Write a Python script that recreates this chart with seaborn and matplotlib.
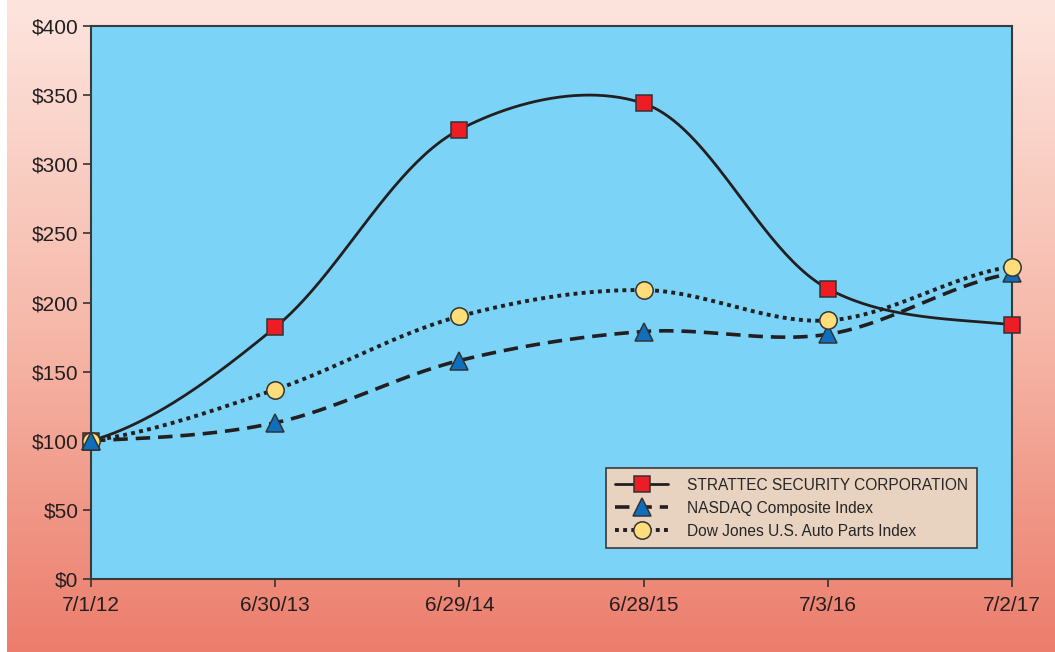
import numpy as np
import pandas as pd
import seaborn as sns
import matplotlib.pyplot as plt
from matplotlib.lines import Line2D
from matplotlib.colors import LinearSegmentedColormap

dates = ['7/1/12', '6/30/13', '6/29/14', '6/28/15', '7/3/16', '7/2/17']
strattec = [100, 182, 325, 344, 210, 184]
nasdaq = [100, 113, 158, 179, 177, 221]
dowjones = [100, 137, 190, 209, 187, 226]
yticks = [0, 50, 100, 150, 200, 250, 300, 350, 400]

# rough pixel size of one x step and one dollar, for a smoothing that
# looks right on screen
XS, YS = 184.2, 1.3825


def smooth(y, n=50, alpha=0.5):
    # centripetal catmull-rom through the points, in screen-like units
    y = np.asarray(y, float)
    k = len(y)
    P = np.column_stack([np.arange(k) * XS, y * YS])
    P = np.vstack([P[0] - [XS, 0], P, P[-1] + [XS, 0]])
    out = []
    for i in range(1, k):
        p0, p1, p2, p3 = P[i - 1], P[i], P[i + 1], P[i + 2]
        t0 = 0.0
        t1 = t0 + np.linalg.norm(p1 - p0) ** alpha
        t2 = t1 + np.linalg.norm(p2 - p1) ** alpha
        t3 = t2 + np.linalg.norm(p3 - p2) ** alpha
        t = np.linspace(t1, t2, n, endpoint=False)[:, None]
        a1 = (t1 - t) / (t1 - t0) * p0 + (t - t0) / (t1 - t0) * p1
        a2 = (t2 - t) / (t2 - t1) * p1 + (t - t1) / (t2 - t1) * p2
        a3 = (t3 - t) / (t3 - t2) * p2 + (t - t2) / (t3 - t2) * p3
        b1 = (t2 - t) / (t2 - t0) * a1 + (t - t0) / (t2 - t0) * a2
        b2 = (t3 - t) / (t3 - t1) * a2 + (t - t1) / (t3 - t1) * a3
        out.append((t2 - t) / (t2 - t1) * b1 + (t - t1) / (t2 - t1) * b2)
    out.append(P[-2][None, :])
    c = np.vstack(out)
    return c[:, 0] / XS, c[:, 1] / YS


sns.set_style('ticks')
plt.rcParams['font.family'] = ['Liberation Sans', 'DejaVu Sans']

fig = plt.figure(figsize=(10.55, 6.52), dpi=100)

# gradient backdrop
bg = fig.add_axes([7 / 1055, 0, 1 - 7 / 1055, 1], zorder=-10)
cmap = LinearSegmentedColormap.from_list('bg', ['#fde5de', '#f6b9aa', '#ec7d6c'])
bg.imshow(np.linspace(0, 1, 256).reshape(-1, 1), aspect='auto', cmap=cmap, extent=[0, 1, 0, 1])
bg.axis('off')

ax = fig.add_axes([91 / 1055, 1 - 579 / 652, (1012 - 91) / 1055, (579 - 26) / 652])
ax.set_facecolor('#7bd3f7')

series = [
    ('STRATTEC SECURITY CORPORATION', strattec, 's', '#ee1c25', 11, 2.0, None, 5),
    ('NASDAQ Composite Index', nasdaq, '^', '#0f6fbd', 13, 2.6, (4, 2.2), 5),
    ('Dow Jones U.S. Auto Parts Index', dowjones, 'o', '#ffde7a', 12.5, 2.8, (1, 1.1), 6),
]

handles = []
for name, vals, mk, col, ms, lw, dash, zo in series:
    xs, ys = smooth(vals)
    df = pd.DataFrame({'x': xs, 'y': ys})
    sns.lineplot(data=df, x='x', y='y', ax=ax, color='#231f20', lw=lw,
                 legend=False, zorder=3, sort=False, estimator=None)
    l = ax.lines[-1]
    if dash is not None:
        l.set_dashes(dash)
        l.set_dash_capstyle('butt')
    ax.plot(range(len(vals)), vals, ls='none', marker=mk, ms=ms, mfc=col,
            mec='#333333', mew=1.1, zorder=zo, clip_on=False)
    h = Line2D([], [], color='#231f20', lw=lw, marker=mk, ms=ms, mfc=col,
               mec='#333333', mew=1.1)
    if dash is not None:
        h.set_dashes(dash)
    handles.append((h, name))

# the triangle sits on top at the starting point
ax.plot([0], nasdaq[:1], ls='none', marker='^', ms=13, mfc='#0f6fbd',
        mec='#333333', mew=1.1, zorder=7, clip_on=False)

ax.set_xlim(0, len(dates) - 1)
ax.set_ylim(0, 400)
ax.set_xticks(range(len(dates)))
ax.set_xticklabels(dates)
ax.set_yticks(yticks)
ax.set_yticklabels(['$' + str(v) for v in yticks])
ax.tick_params(axis='both', length=6, width=1.2, color='#333333', labelsize=15,
               labelcolor='#231f20', direction='out', pad=3)
ax.tick_params(axis='x', pad=6)
ax.set_xlabel('')
ax.set_ylabel('')
for s in ax.spines.values():
    s.set_visible(True)
    s.set_color('#3a3a3a')
    s.set_linewidth(1.5)

leg = ax.legend([h for h, _ in handles], [n for _, n in handles],
                loc='lower left', bbox_to_anchor=(0.559, 0.056), fontsize=11.2,
                handlelength=3.4, frameon=True, fancybox=False, borderpad=0.6,
                borderaxespad=0, labelspacing=0.52, handletextpad=1.2)
leg.get_frame().set_facecolor('#e8d3c0')
leg.get_frame().set_edgecolor('#3a3a3a')
leg.get_frame().set_alpha(1)
leg.get_frame().set_linewidth(1.2)

fig.savefig('out.png', dpi=100)
